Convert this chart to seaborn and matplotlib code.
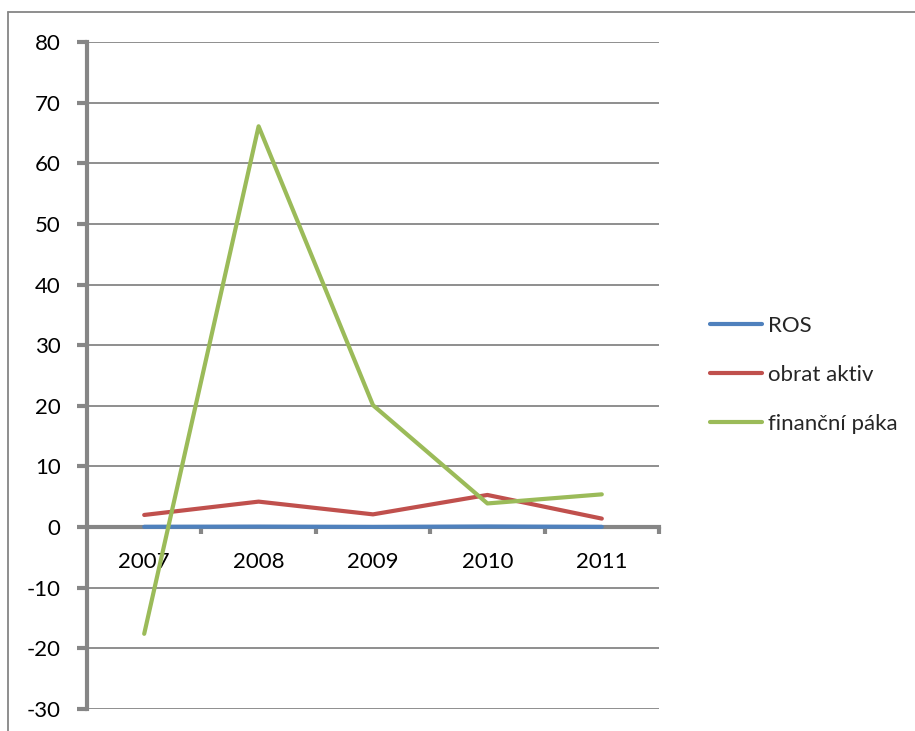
import matplotlib
matplotlib.use("Agg")
import matplotlib.pyplot as plt
import seaborn as sns
import pandas as pd
from matplotlib.lines import Line2D

years = ["2007", "2008", "2009", "2010", "2011"]
ros = [0.05, 0.08, 0.03, 0.1, 0.04]
obrat_aktiv = [2.0, 4.2, 2.1, 5.3, 1.4]
financni_paka = [-17.6, 66.1, 20.1, 3.9, 5.4]

series_names = ["ROS", "obrat aktiv", "finanční páka"]
colors = ["#4F81BD", "#C0504D", "#9BBB59"]

df = pd.DataFrame({
    "rok": years * 3,
    "x": list(range(len(years))) * 3,
    "hodnota": ros + obrat_aktiv + financni_paka,
    "ukazatel": [s for s in series_names for _ in years],
})

sns.set_theme(style="white")
plt.rcParams["font.family"] = ["Lato", "DejaVu Sans"]

W, H = 915, 731
FS = 16
fig = plt.figure(figsize=(W / 100, H / 100), dpi=100)
ax = fig.add_axes([87 / W, 1 - 709 / H, (659 - 87) / W, (709 - 42) / H])

sns.lineplot(data=df, x="x", y="hodnota", hue="ukazatel", hue_order=series_names,
             palette=colors, linewidth=3.0, ax=ax, legend=False, zorder=3)

grid_c = "#868686"
ax.set_xlim(-0.5, 4.5)
ax.set_ylim(-30, 80)
ax.set_yticks(range(-30, 81, 10))
ax.set_yticklabels([str(v) for v in range(-30, 81, 10)], fontsize=FS)
ax.yaxis.grid(True, color=grid_c, linewidth=1.3)
ax.xaxis.grid(False)
ax.set_axisbelow(True)

for s in ["top", "right"]:
    ax.spines[s].set_visible(False)
ax.spines["left"].set_color(grid_c)
ax.spines["left"].set_linewidth(3)
ax.spines["bottom"].set_position(("data", 0))
ax.spines["bottom"].set_color(grid_c)
ax.spines["bottom"].set_linewidth(3)
ax.spines["bottom"].set_zorder(2)

ax.tick_params(axis="y", direction="out", length=7, width=3, color=grid_c, pad=12,
               labelcolor="black", left=True)
ax.set_xticks(range(len(years)))
ax.set_xticklabels(years, fontsize=FS)
ax.tick_params(axis="x", which="major", length=0, pad=18, labelcolor="black")
ax.set_xticks([i + 0.5 for i in range(len(years))], minor=True)
ax.tick_params(axis="x", which="minor", direction="out", length=5, width=3,
               color=grid_c, bottom=True)
ax.set_xlabel("")
ax.set_ylabel("")

handles = [Line2D([0], [0], color=c, linewidth=3) for c in colors]
fig.legend(handles, series_names, loc="center left",
           bbox_to_anchor=(690 / W, 1 - 375 / H), frameon=False, fontsize=FS,
           handlelength=2.35, handletextpad=0.28, labelspacing=1.3)

# outer frame of the chart area
fig.add_artist(Line2D([8 / W, 8 / W], [0, 1 - 12 / H], color="#868686", linewidth=1.3,
                      transform=fig.transFigure))
fig.add_artist(Line2D([8 / W, 1], [1 - 12 / H, 1 - 12 / H], color="#868686", linewidth=1.3,
                      transform=fig.transFigure))

fig.savefig("out.png", dpi=100, facecolor="white")
